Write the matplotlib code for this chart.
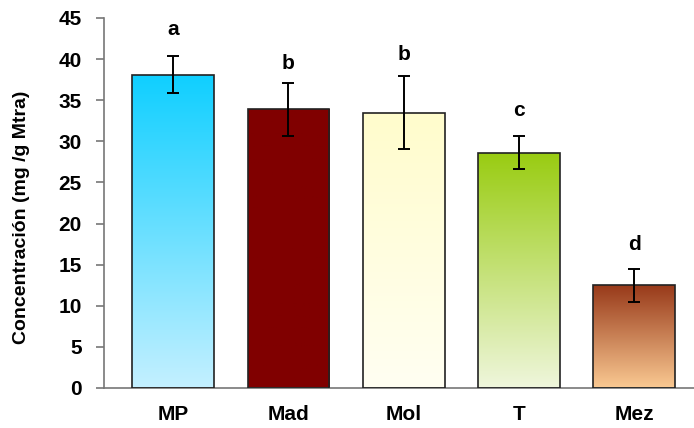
import numpy as np
import matplotlib.pyplot as plt
from matplotlib.colors import LinearSegmentedColormap

plt.rcParams['font.family'] = ['Liberation Sans', 'DejaVu Sans']

categorias = ["MP", "Mad", "Mol", "T", "Mez"]
valores = [38.1, 33.9, 33.5, 28.6, 12.5]
errores = [2.25, 3.2, 4.4, 2.0, 2.0]
letras = ["a", "b", "b", "c", "d"]
letra_y = [43.6, 39.5, 40.5, 33.7, 17.4]
# top colour, bottom colour
colores = [("#0fcfff", "#c4f0ff"), ("#800000", "#800000"), ("#fffccc", "#fffff2"),
           ("#99cc11", "#eff6dc"), ("#983a1a", "#fac992")]

fig = plt.figure(figsize=(6.94, 4.28), dpi=100)
ax = fig.add_axes([0.15, 0.0935, 0.85, 0.8645])

x = np.arange(len(categorias))
bars = ax.bar(x, valores, width=0.71, edgecolor="#222222", linewidth=1.2, facecolor="none", zorder=3)

for b, (c1, c2) in zip(bars, colores):
    cmap = LinearSegmentedColormap.from_list("g", [c2, c1])
    grad = np.linspace(0, 1, 256).reshape(-1, 1)
    bx, by = b.get_x(), b.get_y()
    im = ax.imshow(grad, cmap=cmap, origin="lower", aspect="auto",
                   extent=[bx, bx + b.get_width(), by, by + b.get_height()], zorder=2)
    im.set_clip_path(b)

ax.errorbar(x, valores, yerr=errores, fmt="none", ecolor="black", elinewidth=1.4,
            capsize=4, capthick=1.4, zorder=4)

for xi, l, ly in zip(x, letras, letra_y):
    ax.text(xi, ly, l, ha="center", va="center", fontsize=15, fontweight="bold")

ax.set_xlim(-0.6, 4.52)
ax.set_ylim(0, 45)
ax.set_yticks(range(0, 46, 5))
ax.set_xticks(x)
ax.set_xticklabels(categorias, fontsize=15, fontweight="bold")
for t in ax.get_yticklabels():
    t.set_fontsize(15)
    t.set_fontweight("bold")
ax.tick_params(axis="x", length=0, pad=12)
ax.tick_params(axis="y", length=6, color="#777777", width=1.2, pad=10)
ax.set_ylabel("Concentración (mg /g Mtra)", fontsize=14, fontweight="bold")
ax.yaxis.set_label_coords(-0.125, 0.46)

for s in ["top", "right"]:
    ax.spines[s].set_visible(False)
for s in ["left", "bottom"]:
    ax.spines[s].set_color("#777777")
    ax.spines[s].set_linewidth(1.2)

fig.savefig("out.png", dpi=100)
